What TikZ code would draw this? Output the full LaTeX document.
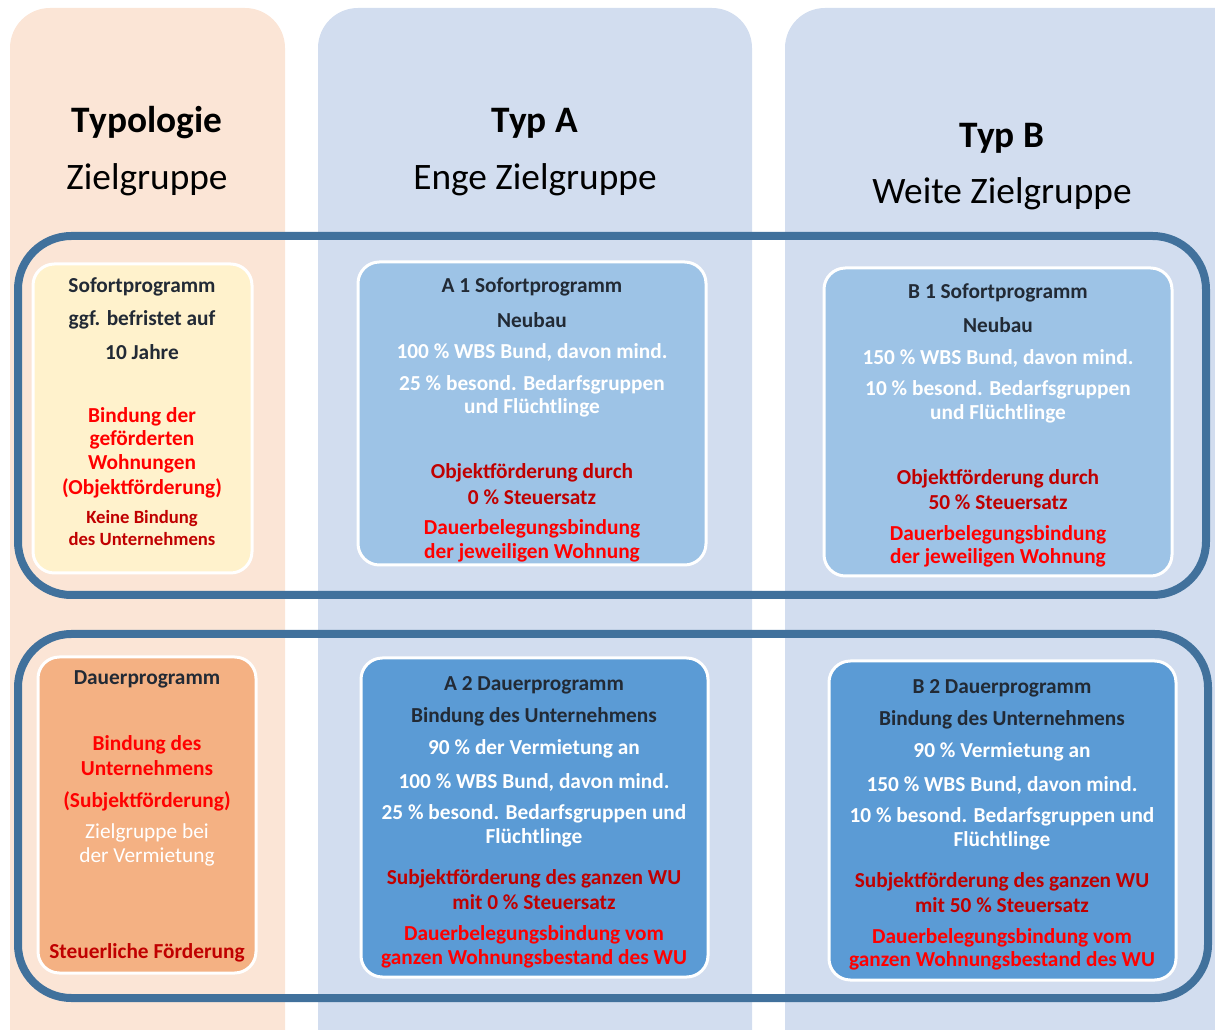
\documentclass[tikz,border=0pt]{standalone}
\usepackage{fontspec}
\setmainfont{Carlito}
\usetikzlibrary{positioning}

\definecolor{peach}{HTML}{FBE5D6}
\definecolor{colblue}{HTML}{D2DDEF}
\definecolor{frameblue}{HTML}{41719C}
\definecolor{cream}{HTML}{FFF2CC}
\definecolor{apricot}{HTML}{F4B183}
\definecolor{lightsky}{HTML}{9DC3E6}
\definecolor{midsky}{HTML}{5B9BD5}
\definecolor{inkdark}{HTML}{222A35}
\definecolor{redlight}{HTML}{FF0000}
\definecolor{reddark}{HTML}{C00000}

\tikzset{
  cell/.style={draw=white, line width=2.25pt, rounded corners=16pt, inner sep=0pt},
  row/.style={draw=frameblue, line width=6pt, rounded corners=40pt},
  txt/.style={yshift=-1.5pt},
  headbold/.style={font=\bfseries\fontsize{28}{30}\selectfont, text=black},
  headreg/.style={font=\fontsize{28}{30}\selectfont, text=black},
  dk/.style={txt, font=\bfseries\fontsize{16}{18}\selectfont, text=inkdark},
  wt/.style={txt, font=\bfseries\fontsize{16}{18}\selectfont, text=white},
  rd/.style={txt, font=\bfseries\fontsize{16}{18}\selectfont, text=redlight},
  drd/.style={txt, font=\bfseries\fontsize{16}{18}\selectfont, text=reddark},
  drdsmall/.style={txt, font=\bfseries\fontsize{14}{16}\selectfont, text=reddark},
  wtreg/.style={txt, font=\fontsize{16}{18}\selectfont, text=white}
}

\begin{document}
\begin{tikzpicture}[x=0.75pt, y=-0.75pt]

  \useasboundingbox (0,0) rectangle (1215,1030);
  \clip (0,0) rectangle (1215,1030);

  % columns
  \fill[peach, rounded corners=30pt] (10,8) rectangle (285,1080);
  \fill[colblue, rounded corners=30pt] (318,8) rectangle (752,1080);
  \fill[colblue, rounded corners=30pt] (785,8) rectangle (1260,1080);

  % headers
  \node[headbold] (typo) at (147,123) {Typologie};
  \node[headreg] (typoz) at (147,180) {Zielgruppe};
  \node[headbold] (typa) at (535,123) {Typ A};
  \node[headreg] (typaz) at (535,180) {Enge Zielgruppe};
  \node[headbold] (typb) at (1002,138) {Typ B};
  \node[headreg] (typbz) at (1002,194) {Weite Zielgruppe};

  % row frames
  \draw[row] (18,236) rectangle (1206,595);
  \draw[row] (18,634) rectangle (1208,998);

  % boxes
  \node[cell, fill=cream, minimum width=164.25pt, minimum height=231.75pt] (s0) at (142.5,418.5) {};
  \node[cell, fill=apricot, minimum width=163.5pt, minimum height=237pt] (d0) at (147,815) {};
  \node[cell, fill=lightsky, minimum width=261pt, minimum height=227.25pt] (a1) at (532,413.5) {};
  \node[cell, fill=lightsky, minimum width=261pt, minimum height=231pt] (b1) at (998,422) {};
  \node[cell, fill=midsky, minimum width=260.25pt, minimum height=239.25pt] (a2) at (534.5,817.5) {};
  \node[cell, fill=midsky, minimum width=260.25pt, minimum height=239.25pt] (b2) at (1002.5,820.5) {};

  % sofortprogramm (left)
  \foreach \t/\y [count=\i] in {Sofortprogramm/285, ggf. befristet auf/318, 10 Jahre/350}
    \node[dk] (s0d\i) at (142,\y) {\t};
  \foreach \t/\y [count=\i] in {Bindung der/415, geförderten/438, Wohnungen/462, (Objektförderung)/486}
    \node[rd] (s0r\i) at (142,\y) {\t};
  \foreach \t/\y [count=\i] in {Keine Bindung/517, des Unternehmens/537}
    \node[drdsmall] (s0k\i) at (142,\y) {\t};

  % dauerprogramm (left)
  \node[dk] (d0d1) at (147,677) {Dauerprogramm};
  \foreach \t/\y [count=\i] in {Bindung des/743, Unternehmens/766, (Subjektförderung)/799}
    \node[rd] (d0r\i) at (147,\y) {\t};
  \foreach \t/\y [count=\i] in {Zielgruppe bei/831, der Vermietung/855}
    \node[wtreg] (d0w\i) at (147,\y) {\t};
  \node[drd] (d0k1) at (147,951) {Steuerliche Förderung};

  % A 1
  \foreach \t/\y [count=\i] in {A 1 Sofortprogramm/285, Neubau/318}
    \node[dk] (a1d\i) at (532,\y) {\t};
  \foreach \t/\y [count=\i] in {{100 \% WBS Bund, davon mind.}/350, 25 \% besond. Bedarfsgruppen/383, und Flüchtlinge/406}
    \node[wt] (a1w\i) at (532,\y) {\t};
  \foreach \t/\y [count=\i] in {Objektförderung durch/471, 0 \% Steuersatz/495}
    \node[drd] (a1k\i) at (532,\y) {\t};
  \foreach \t/\y [count=\i] in {Dauerbelegungsbindung/527, der jeweiligen Wohnung/551}
    \node[rd] (a1r\i) at (532,\y) {\t};

  % B 1
  \foreach \t/\y [count=\i] in {B 1 Sofortprogramm/291, Neubau/323}
    \node[dk] (b1d\i) at (998,\y) {\t};
  \foreach \t/\y [count=\i] in {{150 \% WBS Bund, davon mind.}/356, 10 \% besond. Bedarfsgruppen/388, und Flüchtlinge/412}
    \node[wt] (b1w\i) at (998,\y) {\t};
  \foreach \t/\y [count=\i] in {Objektförderung durch/477, 50 \% Steuersatz/500}
    \node[drd] (b1k\i) at (998,\y) {\t};
  \foreach \t/\y [count=\i] in {Dauerbelegungsbindung/533, der jeweiligen Wohnung/556}
    \node[rd] (b1r\i) at (998,\y) {\t};

  % A 2
  \foreach \t/\y [count=\i] in {A 2 Dauerprogramm/683, Bindung des Unternehmens/715}
    \node[dk] (a2d\i) at (534,\y) {\t};
  \foreach \t/\y [count=\i] in {90 \% der Vermietung an/747, {100 \% WBS Bund, davon mind.}/780, 25 \% besond. Bedarfsgruppen und/812, Flüchtlinge/836}
    \node[wt] (a2w\i) at (534,\y) {\t};
  \foreach \t/\y [count=\i] in {Subjektförderung des ganzen WU/877, mit 0 \% Steuersatz/900}
    \node[drd] (a2k\i) at (534,\y) {\t};
  \foreach \t/\y [count=\i] in {Dauerbelegungsbindung vom/933, ganzen Wohnungsbestand des WU/957}
    \node[rd] (a2r\i) at (534,\y) {\t};

  % B 2
  \foreach \t/\y [count=\i] in {B 2 Dauerprogramm/686, Bindung des Unternehmens/718}
    \node[dk] (b2d\i) at (1002,\y) {\t};
  \foreach \t/\y [count=\i] in {90 \% Vermietung an/750, {150 \% WBS Bund, davon mind.}/783, 10 \% besond. Bedarfsgruppen und/815, Flüchtlinge/839}
    \node[wt] (b2w\i) at (1002,\y) {\t};
  \foreach \t/\y [count=\i] in {Subjektförderung des ganzen WU/880, mit 50 \% Steuersatz/903}
    \node[drd] (b2k\i) at (1002,\y) {\t};
  \foreach \t/\y [count=\i] in {Dauerbelegungsbindung vom/936, ganzen Wohnungsbestand des WU/959}
    \node[rd] (b2r\i) at (1002,\y) {\t};

\end{tikzpicture}
\end{document}
